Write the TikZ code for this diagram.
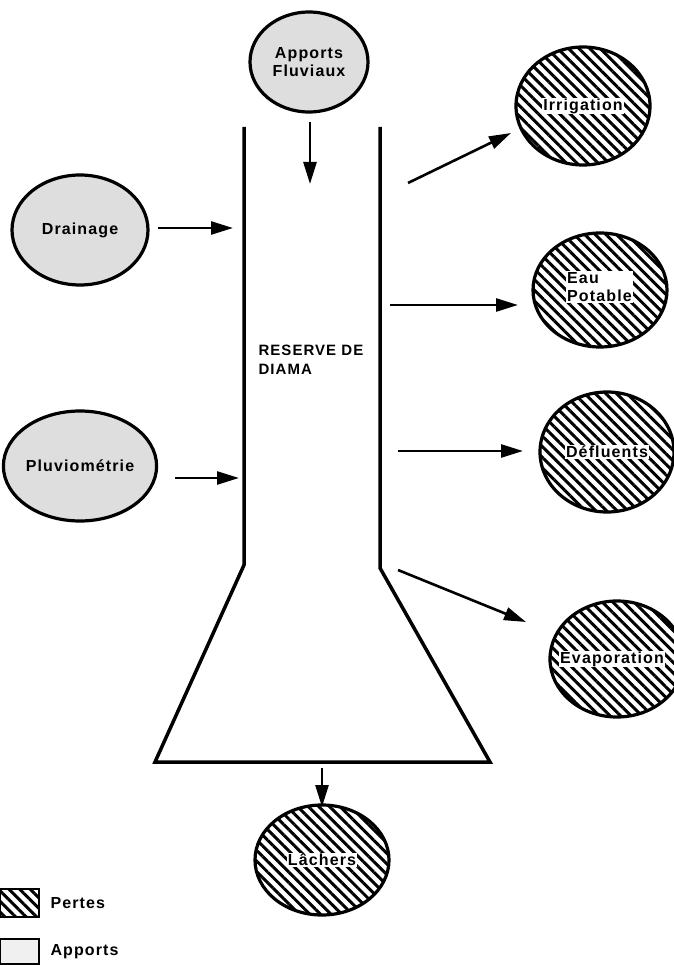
\documentclass[tikz,border=0pt]{standalone}
\usepackage{fontspec}
\setmainfont{Liberation Sans}[LetterSpace=7]
\usetikzlibrary{shapes.geometric,arrows.meta,patterns.meta}
\begin{document}
\begin{tikzpicture}[x=1pt,y=-1pt,
  lbl/.style={font=\fontsize{16}{18}\selectfont\bfseries},
  gain/.style={ellipse, draw, line width=3.2pt, fill=black!13, inner sep=0pt, lbl, align=center},
  loss/.style={ellipse, draw, line width=3.2pt, pattern={Lines[angle=-45,distance=7.5pt,line width=3pt]}, inner sep=0pt},
  losstxt/.style={fill=white, inner sep=1pt, lbl, align=left},
  arr/.style={line width=2.6pt, -{Triangle[length=22pt,width=13pt]}},
  wall/.style={line width=3.5pt, line join=miter}]
\useasboundingbox (0,0) rectangle (673,965);
\fill[white] (0,0) rectangle (673,965);

% reservoir
\coordinate (lt) at (244,127);
\coordinate (rt) at (380,127);
\coordinate (lb) at (244,565);
\coordinate (rb) at (380,568);
\coordinate (bl) at (155,762);
\coordinate (br) at (490,762);
\draw[wall] (lt) -- (lb) -- (bl) -- (br) -- (rb) -- (rt);
\node[anchor=west, align=left, font=\fontsize{15}{19}\selectfont\bfseries] (res) at (255,360) {RESERVE DE\\DIAMA};

% inflows
\node[gain, minimum width=118pt, minimum height=100pt] (fluv) at (309,62) {Apports\\Fluviaux};
\node[gain, minimum width=136pt, minimum height=110pt] (drain) at (80,230) {Drainage};
\node[gain, minimum width=134pt, minimum height=110pt] (pluv) at (80,466) {Pluviométrie};

% losses
\node[loss, minimum width=134pt, minimum height=118pt] (irr) at (583,106) {};
\node[losstxt] (irrt) at (irr) {Irrigation};
\node[loss, minimum width=134pt, minimum height=114pt] (eau) at (600,290) {};
\node[losstxt, anchor=west] (eaut) at (566,287) {Eau\\Potable};
\node[loss, minimum width=134pt, minimum height=120pt] (defl) at (607,452) {};
\node[losstxt] (deflt) at (defl) {Défluents};
\node[loss, minimum width=134pt, minimum height=116pt] (evap) at (617,659) {};
\node[losstxt, anchor=west] (evapt) at (559,659) {Evaporation};
\node[loss, minimum width=134pt, minimum height=110pt] (lach) at (322,860) {};
\node[losstxt] (lacht) at (lach) {Lâchers};

% arrows
\coordinate (a1) at (310,122); \coordinate (a2) at (310,184);
\coordinate (b1) at (158,228); \coordinate (b2) at (233,228);
\coordinate (c1) at (175,478); \coordinate (c2) at (239,478);
\coordinate (d1) at (408,183); \coordinate (d2) at (511,133);
\coordinate (e1) at (390,305); \coordinate (e2) at (518,305);
\coordinate (f1) at (398,451); \coordinate (f2) at (523,451);
\coordinate (g1) at (398,570); \coordinate (g2) at (526,622);
\coordinate (h1) at (322,768); \coordinate (h2) at (322,807);
\draw[arr] (a1) -- (a2);
\draw[arr] (b1) -- (b2);
\draw[arr] (c1) -- (c2);
\draw[arr] (d1) -- (d2);
\draw[arr] (e1) -- (e2);
\draw[arr] (f1) -- (f2);
\draw[arr] (g1) -- (g2);
\draw[arr] (h1) -- (h2);

% legend
\draw[line width=2.5pt, pattern={Lines[angle=-45,distance=7.5pt,line width=3pt]}] (0,889) rectangle (39,917);
\node[lbl, anchor=west] (pert) at (47,903) {Pertes};
\draw[line width=2.5pt, fill=black!6] (0,939) rectangle (39,964);
\node[lbl, anchor=west] (appo) at (47,952) {Apports};
\end{tikzpicture}
\end{document}
